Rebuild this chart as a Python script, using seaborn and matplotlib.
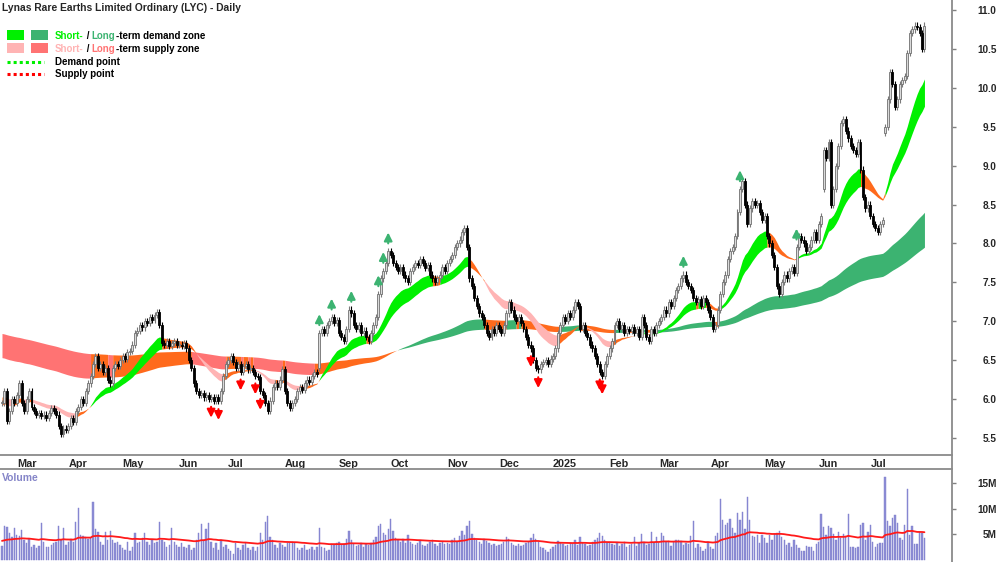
import numpy as np
import pandas as pd
import matplotlib
matplotlib.use('Agg')
import matplotlib.pyplot as plt
from matplotlib.patches import Rectangle
from matplotlib.lines import Line2D
import seaborn as sns

sns.set_theme(style='white')
plt.rcParams['font.family'] = ['Liberation Sans', 'DejaVu Sans']
plt.rcParams['font.weight'] = 'bold'

# ---------------- data ----------------
close_2024_02 = [5.95, 6.10, 5.72, 5.85, 6.00, 5.95]
close_2024_03 = [6.05, 6.20, 5.95, 5.85, 6.00, 6.10, 5.90, 5.85, 5.80, 5.82, 5.78, 5.80, 5.76, 5.82, 5.88,
                 5.85, 5.80, 5.65, 5.55, 5.62, 5.60]
close_2024_04 = [5.65, 5.75, 5.70, 5.85, 5.90, 6.00, 5.95, 6.10, 6.20, 6.30, 6.45, 6.55, 6.40, 6.45, 6.35,
                 6.40, 6.25, 6.20, 6.40, 6.45, 6.42, 6.50]
close_2024_05 = [6.55, 6.52, 6.60, 6.62, 6.70, 6.85, 6.88, 6.95, 6.92, 7.00, 6.98, 7.05, 7.02, 7.08, 7.12,
                 6.95, 6.72, 6.70, 6.75, 6.68, 6.72, 6.74, 6.70]
close_2024_06 = [6.70, 6.68, 6.72, 6.65, 6.50, 6.40, 6.20, 6.10, 6.05, 6.08, 6.02, 6.05, 6.00, 6.03, 5.98,
                 6.02, 5.97, 6.10, 6.30, 6.45]
close_2024_07 = [6.50, 6.55, 6.48, 6.40, 6.45, 6.35, 6.42, 6.45, 6.38, 6.40, 6.35, 6.30, 6.28, 6.10, 6.05,
                 5.95, 5.85, 5.98, 6.15, 6.20, 6.15, 6.25, 6.38]
close_2024_08 = [6.10, 5.95, 5.88, 5.95, 6.00, 6.10, 6.15, 6.12, 6.20, 6.25, 6.22, 6.30, 6.35, 6.32, 6.85,
                 6.90, 6.85, 6.95, 7.00, 7.05, 6.98, 7.02]
close_2024_09 = [6.85, 6.80, 6.75, 6.90, 7.15, 7.10, 6.95, 6.90, 6.95, 6.85, 6.88, 6.80, 6.75, 6.85, 6.95,
                 7.05, 7.35, 7.55, 7.65, 7.75, 7.90]
close_2024_10 = [7.85, 7.75, 7.70, 7.65, 7.70, 7.60, 7.55, 7.50, 7.65, 7.70, 7.75, 7.72, 7.80, 7.75, 7.68,
                 7.72, 7.60, 7.55, 7.50, 7.55, 7.60, 7.70, 7.65]
close_2024_11 = [7.75, 7.80, 7.85, 7.95, 8.00, 8.05, 8.15, 8.20, 7.95, 7.55, 7.45, 7.30, 7.20, 7.10, 7.05,
                 6.95, 6.85, 6.80, 6.90, 6.85, 6.95]
close_2024_12 = [6.90, 6.85, 6.95, 7.10, 7.25, 7.15, 7.05, 7.00, 7.05, 6.98, 6.90, 6.80, 6.70, 6.65, 6.50,
                 6.40, 6.38, 6.45, 6.48, 6.50, 6.45, 6.52]
close_2025_01 = [6.55, 6.65, 6.85, 6.95, 7.05, 7.00, 7.10, 7.05, 7.15, 7.25, 7.20, 6.90, 6.95, 6.85, 6.80,
                 6.70, 6.65, 6.55, 6.45, 6.35, 6.30, 6.45, 6.55]
close_2025_02 = [6.65, 6.75, 6.95, 7.00, 6.90, 6.95, 6.85, 6.90, 6.88, 6.92, 6.85, 6.90, 6.80, 7.05, 6.95,
                 6.80, 6.75, 6.90, 6.85, 6.95]
close_2025_03 = [7.00, 7.05, 7.15, 7.10, 7.25, 7.20, 7.30, 7.40, 7.45, 7.55, 7.60, 7.50, 7.45, 7.40, 7.30,
                 7.25, 7.28, 7.20, 7.30, 7.25, 7.15]
close_2025_04 = [7.05, 6.90, 6.95, 7.15, 7.35, 7.50, 7.60, 7.80, 7.90, 7.95, 8.10, 8.40, 8.70, 8.80, 8.50,
                 8.25, 8.45, 8.55, 8.50, 8.52, 8.40, 8.30]
close_2025_05 = [8.35, 8.10, 8.00, 7.85, 7.70, 7.45, 7.35, 7.50, 7.60, 7.55, 7.65, 7.70, 7.62, 7.95, 8.10,
                 8.05, 8.00, 7.90, 7.95, 8.05, 8.15, 8.05]
close_2025_06 = [8.25, 8.35, 9.20, 9.10, 9.30, 8.50, 8.70, 9.00, 9.25, 9.55, 9.60, 9.45, 9.35, 9.25, 9.20,
                 9.15, 9.30, 8.95, 8.60, 8.45, 8.50]
close_2025_07 = [8.35, 8.25, 8.20, 8.15, 8.25, 8.30, 9.50, 9.85, 10.20, 10.05, 9.75, 9.85, 10.05, 10.10,
                 10.15, 10.45, 10.70, 10.75, 10.80, 10.78, 10.70, 10.50, 10.80]

# opening prices on gap days (other days open at the previous close)
gap_open = {129: 6.40, 334: 8.70, 359: 9.42}

# volume in millions
vol_2024_02 = [2.6, 6.5, 6.4, 5.2, 4.4, 6.1]
vol_2024_03 = [4.8, 4.7, 5.8, 3.8, 3.2, 4.1, 2.5, 2.8, 2.2, 2.6, 7.2, 3.5, 2.4, 2.5, 2.8, 3.2, 3.5, 6.5, 3.8, 6.2, 2.8]
vol_2024_04 = [3.5, 4.0, 3.5, 7.3, 10.1, 4.8, 4.6, 4.4, 4.0, 4.2, 11.3, 5.9, 5.4, 3.5, 2.8, 5.4, 3.8, 5.5, 3.8,
               3.2, 3.5, 2.8]
vol_2024_05 = [2.2, 1.9, 3.5, 1.6, 2.5, 5.2, 3.2, 3.5, 4.2, 5.2, 3.5, 2.8, 3.8, 3.2, 3.5, 7.4, 3.8, 3.5, 2.5,
               2.8, 6.2, 3.5, 2.8]
vol_2024_06 = [2.5, 3.2, 2.5, 2.2, 2.8, 1.9, 2.2, 3.8, 5.2, 6.9, 3.8, 6.0, 7.2, 3.5, 2.2, 3.2, 1.9, 3.8, 2.5, 2.8]
vol_2024_07 = [2.0, 1.6, 1.0, 3.2, 2.2, 1.9, 2.8, 3.2, 2.2, 1.9, 2.5, 1.6, 2.4, 5.2, 3.8, 7.4, 8.5, 4.4, 3.8,
               2.8, 2.2, 3.2, 2.8]
vol_2024_08 = [2.5, 3.2, 3.3, 3.5, 3.2, 2.2, 1.9, 2.2, 2.8, 1.9, 2.0, 2.5, 1.9, 2.4, 6.2, 2.5, 2.2, 1.6, 1.9,
               3.0, 2.8, 3.2]
vol_2024_09 = [3.5, 2.8, 3.0, 4.0, 5.5, 3.8, 3.0, 2.6, 2.9, 3.2, 2.5, 3.0, 2.8, 3.3, 3.8, 4.5, 6.5, 7.0, 5.2,
               4.8, 6.0]
vol_2024_10 = [8.0, 5.5, 4.2, 3.8, 3.5, 4.0, 3.2, 4.8, 3.5, 3.0, 2.8, 3.2, 3.6, 2.9, 2.6, 3.0, 3.4, 3.8, 3.0,
               2.7, 3.2, 3.5, 3.0]
vol_2024_11 = [3.3, 3.0, 3.8, 4.2, 3.5, 4.6, 5.5, 4.8, 6.5, 7.5, 5.0, 4.2, 3.8, 3.5, 3.0, 4.0, 3.6, 3.2, 2.8,
               3.0, 2.6]
vol_2024_12 = [2.8, 3.0, 3.4, 4.5, 4.0, 3.2, 2.9, 2.7, 3.0, 2.6, 2.8, 3.2, 3.5, 4.2, 5.0, 4.0, 3.4, 2.5, 2.2,
               1.8, 1.5, 2.0]
vol_2025_01 = [2.4, 2.8, 3.6, 3.2, 3.0, 2.6, 2.9, 3.3, 3.0, 3.8, 2.8, 4.5, 3.2, 3.0, 2.6, 2.8, 3.4, 3.8, 4.2,
               5.2, 4.6, 3.8, 3.2]
vol_2025_02 = [3.5, 3.0, 2.8, 3.2, 2.6, 3.0, 3.4, 2.5, 2.8, 3.0, 4.5, 2.6, 3.2, 5.0, 3.5, 2.8, 3.0, 5.4, 3.2, 4.5]
vol_2025_03 = [3.2, 5.2, 4.6, 3.5, 3.6, 2.6, 3.5, 3.8, 3.8, 3.6, 2.8, 3.3, 3.0, 4.6, 7.5, 2.2, 3.0, 2.4, 1.6,
               2.0, 3.5]
vol_2025_04 = [2.4, 2.0, 4.6, 5.2, 11.9, 7.7, 6.8, 7.2, 8.0, 6.2, 5.2, 9.2, 7.7, 9.4, 6.0, 12.3, 7.7, 4.6, 4.5,
               4.8, 3.3, 4.9]
vol_2025_05 = [4.3, 3.3, 4.8, 3.8, 5.0, 5.2, 5.5, 4.5, 3.8, 2.8, 3.3, 2.5, 3.8, 2.8, 2.2, 1.6, 1.7, 2.6, 2.4,
               2.5, 1.6, 3.0]
vol_2025_06 = [3.5, 9.0, 6.3, 4.8, 6.5, 6.2, 5.0, 3.8, 5.4, 4.2, 5.0, 4.7, 8.9, 2.4, 2.4, 2.2, 2.4, 6.8, 7.2,
               3.8, 5.4]
vol_2025_07 = [6.7, 3.5, 2.4, 3.0, 3.2, 3.2, 16.2, 7.5, 6.5, 8.2, 8.7, 7.2, 4.3, 3.8, 6.7, 13.8, 4.9, 6.5,
               3.0, 3.0, 5.4, 5.1, 4.3]

# bars flagged on the chart (index into the daily series)
demand_points = [129, 134, 142, 153, 155, 157, 277, 300, 323]
supply_points = [85, 88, 97, 103, 105, 215, 218, 243, 244]

# ribbon settings: EMA spans and their values before the first bar
short_spans, short_seed = (20, 32), (5.92, 6.03)
long_spans, long_seed = (140, 230), (6.54, 6.85)
vol_ma_span, vol_ma_seed = 50, 3.7

months = [close_2024_02, close_2024_03, close_2024_04, close_2024_05, close_2024_06, close_2024_07,
          close_2024_08, close_2024_09, close_2024_10, close_2024_11, close_2024_12, close_2025_01,
          close_2025_02, close_2025_03, close_2025_04, close_2025_05, close_2025_06, close_2025_07]
vmonths = [vol_2024_02, vol_2024_03, vol_2024_04, vol_2024_05, vol_2024_06, vol_2024_07, vol_2024_08,
           vol_2024_09, vol_2024_10, vol_2024_11, vol_2024_12, vol_2025_01, vol_2025_02, vol_2025_03,
           vol_2025_04, vol_2025_05, vol_2025_06, vol_2025_07]

close = np.array(sum(months, []))
volume = np.array(sum(vmonths, []))
dates = pd.bdate_range('2024-02-22', '2025-07-31')
n = len(close)
x = np.arange(n)

opn = np.r_[close[0], close[:-1]]
for k, v in gap_open.items():
    opn[k] = v
wick = 0.04
high = np.maximum(opn, close) + wick
low = np.minimum(opn, close) - wick


def ema(values, span, seed):
    a = 2.0 / (span + 1)
    out = np.empty(len(values))
    e = seed
    for k, v in enumerate(values):
        e = e + a * (v - e)
        out[k] = e
    return out


df = pd.DataFrame({'date': dates[:n], 'x': x, 'close': close, 'volume': volume})
df['vol_ma'] = ema(volume, vol_ma_span, vol_ma_seed)


def ribbon_state(fast, slow, seed):
    slope = np.diff(fast, prepend=seed)
    st = np.full(len(fast), 'mix', dtype=object)
    st[(fast > slow) & (slope > 0)] = 'up'
    st[(fast < slow) & (slope < 0)] = 'down'
    return st


def fill_ribbon(ax, a, b, states, colors, z):
    start = 0
    for k in range(1, n + 1):
        if k == n or states[k] != states[start]:
            end = min(k, n - 1)
            ax.fill_between(x[start:end + 1], a[start:end + 1], b[start:end + 1],
                            color=colors[states[start]], lw=0, zorder=z)
            start = k


s_fast = ema(close, short_spans[0], short_seed[0])
s_slow = ema(close, short_spans[1], short_seed[1])
l_fast = ema(close, long_spans[0], long_seed[0])
l_slow = ema(close, long_spans[1], long_seed[1])

C_GREEN = '#00f000'
C_DGREEN = '#3cb371'
C_PINK = '#ffb4b4'
C_SALMON = '#ff7373'
C_ORANGE = '#ff6a1c'

W, H = 1000, 562
fig = plt.figure(figsize=(10, 5.62), dpi=100)
ax = fig.add_axes([0, 1 - 455 / H, 0.952, 455 / H])
axv = fig.add_axes([0, 0, 0.952, (H - 469) / H])

fill_ribbon(ax, l_fast, l_slow, ribbon_state(l_fast, l_slow, long_seed[0]),
            {'up': C_DGREEN, 'down': C_SALMON, 'mix': C_ORANGE}, 1)
fill_ribbon(ax, s_fast, s_slow, ribbon_state(s_fast, s_slow, short_seed[0]),
            {'up': C_GREEN, 'down': C_PINK, 'mix': C_ORANGE}, 2)

# candles
up = close >= opn
ax.vlines(x[up], low[up], high[up], color='#7a7a7a', lw=0.8, zorder=3)
ax.vlines(x[~up], low[~up], high[~up], color='black', lw=0.8, zorder=3)
body_h = np.maximum(np.abs(close - opn), 0.012)
body_b = np.minimum(close, opn)
ax.bar(x[up], body_h[up], bottom=body_b[up], width=0.8, color='#dadada', edgecolor='#707070',
       linewidth=0.6, zorder=4)
ax.bar(x[~up], body_h[~up], bottom=body_b[~up], width=0.8, color='black', edgecolor='black',
       linewidth=0.6, zorder=4)

arrow_kw = dict(arrowstyle='-|>,head_length=0.4,head_width=0.2', lw=1.5, shrinkA=0, shrinkB=0)
for i in demand_points:
    ax.annotate('', xy=(i, high[i] + 0.2), xytext=(i, high[i] + 0.06),
                arrowprops=dict(color=C_DGREEN, **arrow_kw), zorder=5)
for i in supply_points:
    ax.annotate('', xy=(i, low[i] - 0.2), xytext=(i, low[i] - 0.06),
                arrowprops=dict(color='#ff0000', **arrow_kw), zorder=5)

xlim = (-0.81, 386.2)
ax.set_xlim(*xlim)
ax.set_ylim(5.28, 11.129)
yt = np.arange(5.5, 11.01, 0.5)
ax.set_yticks(yt)
ax.set_yticklabels([f'{v:.1f}' for v in yt])
ax.yaxis.tick_right()

month_start = df.groupby([df['date'].dt.year, df['date'].dt.month])['x'].min().values[1:]
labels = []
for i in month_start:
    d = df['date'].iloc[i]
    labels.append(str(d.year) if d.month == 1 else d.strftime('%b'))
ax.set_xticks(month_start)
ax.set_xticklabels(labels, ha='left')
ax.tick_params(axis='x', direction='in', length=3, width=1, color='#808080', pad=3, labelsize=7.8)
ax.tick_params(axis='y', direction='out', length=3, width=1, color='#808080', pad=29, labelsize=7.2)
for t in ax.get_yticklabels():
    t.set_ha('right')

for s in ['top', 'left']:
    ax.spines[s].set_visible(False)
for s in ['bottom', 'right']:
    ax.spines[s].set_color('#8a8a8a')
    ax.spines[s].set_linewidth(1.3)

# volume panel
axv.bar(df['x'], df['volume'], width=0.55, color='#8f8fd6', edgecolor='#7b7bcb', linewidth=0.3, zorder=2)
sns.lineplot(data=df, x='x', y='vol_ma', ax=axv, color='#ff1a1a', lw=1.3, zorder=3)
axv.set_xlim(*xlim)
axv.set_ylim(-0.49, 17.75)
axv.set_xticks([])
axv.set_yticks([5, 10, 15])
axv.set_yticklabels(['5M', '10M', '15M'])
axv.yaxis.tick_right()
axv.tick_params(axis='y', direction='out', length=3, width=1, color='#808080', pad=29, labelsize=7.2)
for t in axv.get_yticklabels():
    t.set_ha('right')
axv.set_xlabel('')
axv.set_ylabel('')
for s in ['bottom', 'left', 'right']:
    axv.spines[s].set_visible(False)
axv.spines['top'].set_color('#8a8a8a')
axv.spines['top'].set_linewidth(1.3)
ax.spines['right'].set_visible(False)
axv.text(2 / 952, (H - 478) / (H - 469), 'Volume', transform=axv.transAxes, color='#8585c8',
         fontsize=7.5, fontweight='bold', va='center', ha='left')
# one vertical axis line through both panels
fig.add_artist(Line2D([0.952, 0.952], [0, 1], transform=fig.transFigure, color='#8a8a8a', lw=1.3))


# title and legend
def px(xp, yp):
    return xp / W, 1 - yp / H


fig.text(*px(2, 8), 'Lynas Rare Earths Limited Ordinary (LYC) - Daily', fontsize=7.4,
         fontweight='bold', va='center', ha='left')

renderer = fig.canvas.get_renderer()


def chain(xp, yp, parts):
    for s, c in parts:
        t = fig.text(*px(xp, yp), s, color=c, fontsize=7.0, fontweight='bold', va='center', ha='left')
        xp += t.get_window_extent(renderer=renderer).width


for (x0, y0, c) in [(7, 30, C_GREEN), (31, 30, C_DGREEN), (7, 43, C_PINK), (31, 43, C_SALMON)]:
    fig.add_artist(Rectangle(px(x0, y0 + 10), 17 / W, 10 / H, transform=fig.transFigure,
                             color=c, lw=0))
chain(55, 36, [('Short-', C_GREEN), (' / ', 'black'), ('Long', C_DGREEN),
               ('-term demand zone', 'black')])
chain(55, 49, [('Short-', C_PINK), (' / ', 'black'), ('Long', C_SALMON),
               ('-term supply zone', 'black')])
fig.add_artist(Line2D([7 / W, 44 / W], [1 - 62 / H] * 2, transform=fig.transFigure,
                      color=C_GREEN, lw=2.2, linestyle=(0, (1, 1))))
fig.add_artist(Line2D([7 / W, 44 / W], [1 - 74 / H] * 2, transform=fig.transFigure,
                      color='#ff0000', lw=2.2, linestyle=(0, (1, 1))))
chain(55, 62, [('Demand point', 'black')])
chain(55, 74, [('Supply point', 'black')])

fig.savefig('out.png', dpi=100, facecolor='white')
